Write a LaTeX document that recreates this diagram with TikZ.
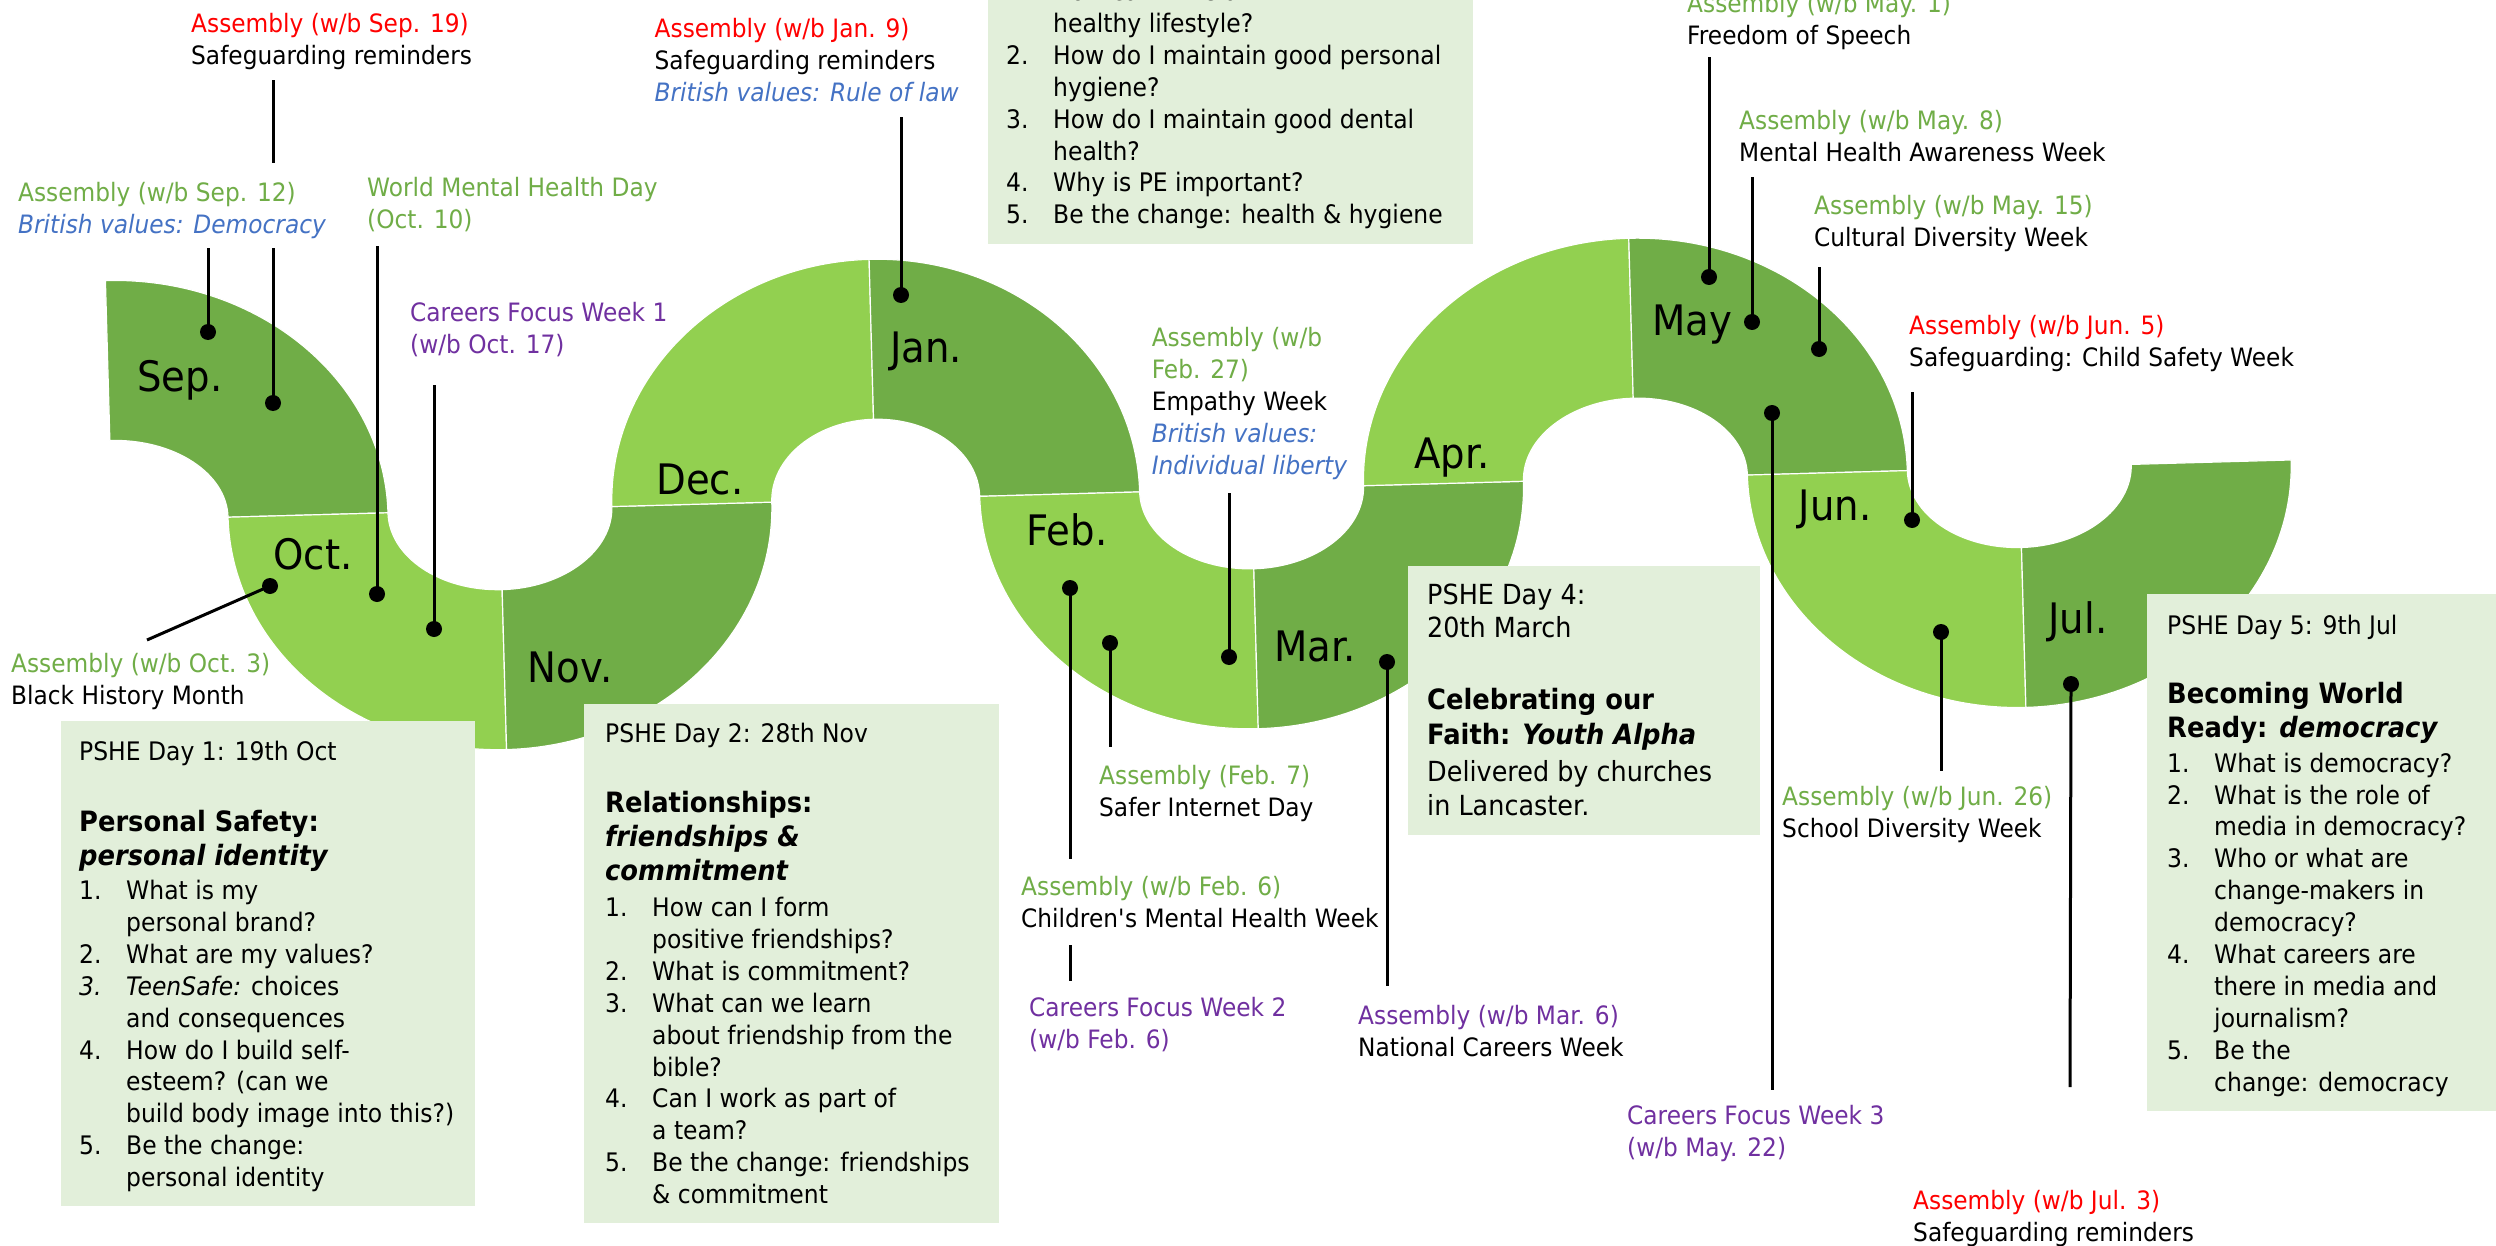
\documentclass[tikz,border=0pt]{standalone}
\usepackage{fontspec}
\setmainfont{DejaVu Sans}[FakeStretch=0.92]

\definecolor{snkdark}{HTML}{70AD47}
\definecolor{snklight}{HTML}{92D050}
\definecolor{boxfill}{HTML}{E2EFDA}
\definecolor{asmred}{HTML}{FF0000}
\definecolor{asmgreen}{HTML}{70AD47}
\definecolor{valblue}{HTML}{4472C4}
\definecolor{carpurple}{HTML}{7030A0}

\newcommand\labelfnt{\fontsize{25.3}{32}\selectfont}
\newcommand\boxfnt{\fontsize{25.5}{31.9}\selectfont}
\newcommand\titlefnt{\fontsize{28}{34}\selectfont\bfseries}
\newcommand\monthfnt{\fontsize{42}{50}\selectfont}
\newcommand\itemno[1]{\makebox[47pt][l]{#1}}
\newcommand\contline{\hspace*{47pt}}
\newcommand\red[1]{\textcolor{asmred}{#1}}
\newcommand\grn[1]{\textcolor{asmgreen}{#1}}
\newcommand\blu[1]{\textcolor{valblue}{\itshape #1}}
\newcommand\pur[1]{\textcolor{carpurple}{#1}}

\begin{document}
\begin{tikzpicture}[x=1pt,y=-1pt,
  lbl/.style={anchor=north west, inner sep=0pt, align=left, font=\labelfnt},
  boxtxt/.style={anchor=north west, inner sep=0pt, align=left, font=\boxfnt},
  boxttl/.style={anchor=north west, inner sep=0pt, align=left, font=\titlefnt},
  month/.style={inner sep=0pt, font=\monthfnt},
  dot/.style={circle, fill=black, inner sep=0pt, minimum size=16pt},
  conn/.style={line width=3pt},
  darkq/.style={fill=snkdark, draw=white, line width=1.2pt},
  lightq/.style={fill=snklight, draw=white, line width=1.2pt},
  boxbg/.style={fill=boxfill}]
\useasboundingbox (0,0) rectangle (2496,1246);
\clip (0,0) rectangle (2496,1246);
\fill[white] (0,0) rectangle (2496,1246);

% ---- the wavy month band: half rings of constant width, slightly tilted ----
\begin{scope}[shift={(308,515)}, rotate=1.59]
  % September (quarter ring)
  \path[darkq] (-196,-240) arc[start angle=270, end angle=360, x radius=276, y radius=240]
    -- (-80,0) arc[start angle=0, end angle=-90, x radius=116, y radius=80] -- cycle;
  % October / November
  \path[lightq] (-80,0) arc[start angle=180, end angle=90, x radius=272, y radius=240]
    -- (192,80) arc[start angle=90, end angle=180, x radius=112, y radius=80] -- cycle;
  \path[darkq] (192,240) arc[start angle=90, end angle=0, x radius=272, y radius=240]
    -- (304,0) arc[start angle=0, end angle=90, x radius=112, y radius=80] -- cycle;
  % December / January
  \path[lightq] (304,0) arc[start angle=180, end angle=270, x radius=264, y radius=240]
    -- (568,-80) arc[start angle=270, end angle=180, x radius=104, y radius=80] -- cycle;
  \path[darkq] (568,-240) arc[start angle=270, end angle=360, x radius=264, y radius=240]
    -- (672,0) arc[start angle=0, end angle=-90, x radius=104, y radius=80] -- cycle;
  % February / March
  \path[lightq] (672,0) arc[start angle=180, end angle=90, x radius=272, y radius=240]
    -- (944,80) arc[start angle=90, end angle=180, x radius=112, y radius=80] -- cycle;
  \path[darkq] (944,240) arc[start angle=90, end angle=0, x radius=272, y radius=240]
    -- (1056,0) arc[start angle=0, end angle=90, x radius=112, y radius=80] -- cycle;
  % April / May
  \path[lightq] (1056,0) arc[start angle=180, end angle=270, x radius=272, y radius=240]
    -- (1328,-80) arc[start angle=270, end angle=180, x radius=112, y radius=80] -- cycle;
  \path[darkq] (1328,-240) arc[start angle=270, end angle=360, x radius=272, y radius=240]
    -- (1440,0) arc[start angle=0, end angle=-90, x radius=112, y radius=80] -- cycle;
  % June / July
  \path[lightq] (1440,0) arc[start angle=180, end angle=90, x radius=272, y radius=240]
    -- (1712,80) arc[start angle=90, end angle=180, x radius=112, y radius=80] -- cycle;
  \path[darkq] (1712,240) arc[start angle=90, end angle=0, x radius=272, y radius=240]
    -- (1824,0) arc[start angle=0, end angle=90, x radius=112, y radius=80] -- cycle;
\end{scope}

% ---- month names ----
\node[month] (mSep) at (180,380) {Sep.};
\node[month] (mOct) at (313,554) {Oct.};
\node[month] (mNov) at (570,667) {Nov.};
\node[month] (mDec) at (700,479) {Dec.};
\node[month] (mJan) at (926,351) {Jan.};
\node[month] (mFeb) at (1067,530) {Feb.};
\node[month] (mMar) at (1315,646) {Mar.};
\node[month] (mApr) at (1452,458) {Apr.};
\node[month] (mMay) at (1692,325) {May};
\node[month] (mJun) at (1835,509) {Jun.};
\node[month] (mJul) at (2078,622) {Jul.};

% ---- PSHE day boxes ----
\fill[boxbg] (61,721) rectangle (475,1206);
\node[boxtxt] (b1head) at (79,740.5) {PSHE Day 1: 19th Oct};
\node[boxttl] (b1title) at (79,810.5) {Personal Safety:\\\textit{personal identity}};
\node[boxtxt] (b1list) at (79,880) {\itemno{1.}What is my\\
\contline personal brand?\\
\itemno{2.}What are my values?\\
\itemno{\textit{3.}}\textit{TeenSafe:} choices\\
\contline and consequences\\
\itemno{4.}How do I build self-\\
\contline esteem? (can we\\
\contline build body image into this?)\\
\itemno{5.}Be the change:\\
\contline personal identity};

\fill[boxbg] (584,703.5) rectangle (999,1223);
\node[boxtxt] (b2head) at (605,723) {PSHE Day 2: 28th Nov};
\node[boxttl] (b2title) at (605,791.5) {Relationships:\\\textit{friendships \&}\\\textit{commitment}};
\node[boxtxt] (b2list) at (605,897) {\itemno{1.}How can I form\\
\contline positive friendships?\\
\itemno{2.}What is commitment?\\
\itemno{3.}What can we learn\\
\contline about friendship from the\\
\contline bible?\\
\itemno{4.}Can I work as part of\\
\contline a team?\\
\itemno{5.}Be the change: friendships\\
\contline \& commitment};

\fill[boxbg] (987.5,-40) rectangle (1472.5,244);
\node[boxtxt] (b3list) at (1006,-19) {\itemno{1.}How can I live a\\
\contline healthy lifestyle?\\
\itemno{2.}How do I maintain good personal\\
\contline hygiene?\\
\itemno{3.}How do I maintain good dental\\
\contline health?\\
\itemno{4.}Why is PE important?\\
\itemno{5.}Be the change: health \& hygiene};

\fill[boxbg] (1408,566) rectangle (1760,835);
\node[boxtxt, font=\fontsize{27.7}{33}\selectfont] (b4head) at (1427,584) {PSHE Day 4:\\20th March};
\node[boxttl, font=\fontsize{28}{35}\selectfont\bfseries] (b4title) at (1427,688.5) {Celebrating our\\Faith: \textit{Youth Alpha}};
\node[boxtxt, font=\fontsize{27.7}{33.3}\selectfont] (b4body) at (1427,760.5) {Delivered by churches\\in Lancaster.};

\fill[boxbg] (2147,594) rectangle (2496,1111);
\node[boxtxt] (b5head) at (2167,615) {PSHE Day 5: 9th Jul};
\node[boxttl] (b5title) at (2167,682.5) {Becoming World\\Ready: \textit{democracy}};
\node[boxtxt] (b5list) at (2167,752.6) {\itemno{1.}What is democracy?\\
\itemno{2.}What is the role of\\
\contline media in democracy?\\
\itemno{3.}Who or what are\\
\contline change-makers in\\
\contline democracy?\\
\itemno{4.}What careers are\\
\contline there in media and\\
\contline journalism?\\
\itemno{5.}Be the\\
\contline change: democracy};

% ---- event labels ----
\node[lbl] (lSep19) at (191,13) {\red{Assembly (w/b Sep. 19)}\\Safeguarding reminders};
\node[lbl] (lSep12) at (18,182) {\grn{Assembly (w/b Sep. 12)}\\\blu{British values: Democracy}};
\node[lbl] (lWMHD) at (367,177) {\grn{World Mental Health Day}\\\grn{(Oct. 10)}};
\node[lbl] (lCar1) at (410,302) {\pur{Careers Focus Week 1}\\\pur{(w/b Oct. 17)}};
\node[lbl] (lOct3) at (11,653) {\grn{Assembly (w/b Oct. 3)}\\Black History Month};
\node[lbl] (lJan9) at (654.5,18) {\red{Assembly (w/b Jan. 9)}\\Safeguarding reminders\\\blu{British values: Rule of law}};
\node[lbl] (lFeb27) at (1151.6,327) {\grn{Assembly (w/b}\\\grn{Feb. 27)}\\Empathy Week\\\blu{British values:}\\\blu{Individual liberty}};
\node[lbl] (lFeb7) at (1099,765.5) {\grn{Assembly (Feb. 7)}\\Safer Internet Day};
\node[lbl] (lFeb6) at (1021,876) {\grn{Assembly (w/b Feb. 6)}\\Children\textquotesingle s Mental Health Week};
\node[lbl] (lCar2) at (1029,997) {\pur{Careers Focus Week 2}\\\pur{(w/b Feb. 6)}};
\node[lbl] (lMar6) at (1358,1005) {\pur{Assembly (w/b Mar. 6)}\\National Careers Week};
\node[lbl] (lMay1) at (1687,-7) {\grn{Assembly (w/b May. 1)}\\Freedom of Speech};
\node[lbl] (lMay8) at (1739,110) {\grn{Assembly (w/b May. 8)}\\Mental Health Awareness Week};
\node[lbl] (lMay15) at (1814,195) {\grn{Assembly (w/b May. 15)}\\Cultural Diversity Week};
\node[lbl] (lJun5) at (1909,315) {\red{Assembly (w/b Jun. 5)}\\Safeguarding: Child Safety Week};
\node[lbl] (lCar3) at (1627,1105) {\pur{Careers Focus Week 3}\\\pur{(w/b May. 22)}};
\node[lbl] (lJun26) at (1782,786) {\grn{Assembly (w/b Jun. 26)}\\School Diversity Week};
\node[lbl] (lJul3) at (1913,1190) {\red{Assembly (w/b Jul. 3)}\\Safeguarding reminders};

% ---- pins: dots on the band ----
\node[dot] (dSep12) at (208,332) {};
\node[dot] (dSep19) at (273,403) {};
\node[dot] (dWMHD) at (377,594) {};
\node[dot] (dCar1) at (434,629) {};
\node[dot] (dOct3) at (270,586) {};
\node[dot] (dJan9) at (901,295) {};
\node[dot] (dFeb6) at (1070,588) {};
\node[dot] (dFeb7) at (1110,643) {};
\node[dot] (dFeb27) at (1229,657) {};
\node[dot] (dMar6) at (1387,662) {};
\node[dot] (dMay1) at (1709,277) {};
\node[dot] (dMay8) at (1752,322) {};
\node[dot] (dMay15) at (1819,349) {};
\node[dot] (dJun5) at (1912,520) {};
\node[dot] (dMay22) at (1772,413) {};
\node[dot] (dJun26) at (1941,632) {};
\node[dot] (dJul3) at (2071,684) {};

% ---- free ends of the pin lines ----
\coordinate (eSep12) at (208,248);
\coordinate (eSep19) at (273,248);
\coordinate (eSep19a) at (273,163);
\coordinate (eSep19b) at (273,80);
\coordinate (eWMHD) at (377,246);
\coordinate (eCar1) at (434,385);
\coordinate (eOct3) at (147,640);
\coordinate (eJan9) at (901,117);
\coordinate (eFeb6) at (1070,859);
\coordinate (eFeb6a) at (1070,945);
\coordinate (eFeb6b) at (1070,981);
\coordinate (eFeb7) at (1110,747);
\coordinate (eFeb27) at (1229,493);
\coordinate (eMar6) at (1387,986);
\coordinate (eMay1) at (1709,57);
\coordinate (eMay8) at (1752,177);
\coordinate (eMay15) at (1819,267);
\coordinate (eJun5) at (1912,392);
\coordinate (eMay22) at (1772,1090);
\coordinate (eJun26) at (1941,771);
\coordinate (eJul3) at (2070,1087);

\draw[conn] (dSep12.center) -- (eSep12);
\draw[conn] (dSep19.center) -- (eSep19);
\draw[conn] (eSep19a) -- (eSep19b);
\draw[conn] (dWMHD.center) -- (eWMHD);
\draw[conn] (dCar1.center) -- (eCar1);
\draw[conn] (dOct3.center) -- (eOct3);
\draw[conn] (dJan9.center) -- (eJan9);
\draw[conn] (dFeb6.center) -- (eFeb6);
\draw[conn] (eFeb6a) -- (eFeb6b);
\draw[conn] (dFeb7.center) -- (eFeb7);
\draw[conn] (dFeb27.center) -- (eFeb27);
\draw[conn] (dMar6.center) -- (eMar6);
\draw[conn] (dMay1.center) -- (eMay1);
\draw[conn] (dMay8.center) -- (eMay8);
\draw[conn] (dMay15.center) -- (eMay15);
\draw[conn] (dJun5.center) -- (eJun5);
\draw[conn] (dMay22.center) -- (eMay22);
\draw[conn] (dJun26.center) -- (eJun26);
\draw[conn] (dJul3.center) -- (eJul3);
\end{tikzpicture}
\end{document}
